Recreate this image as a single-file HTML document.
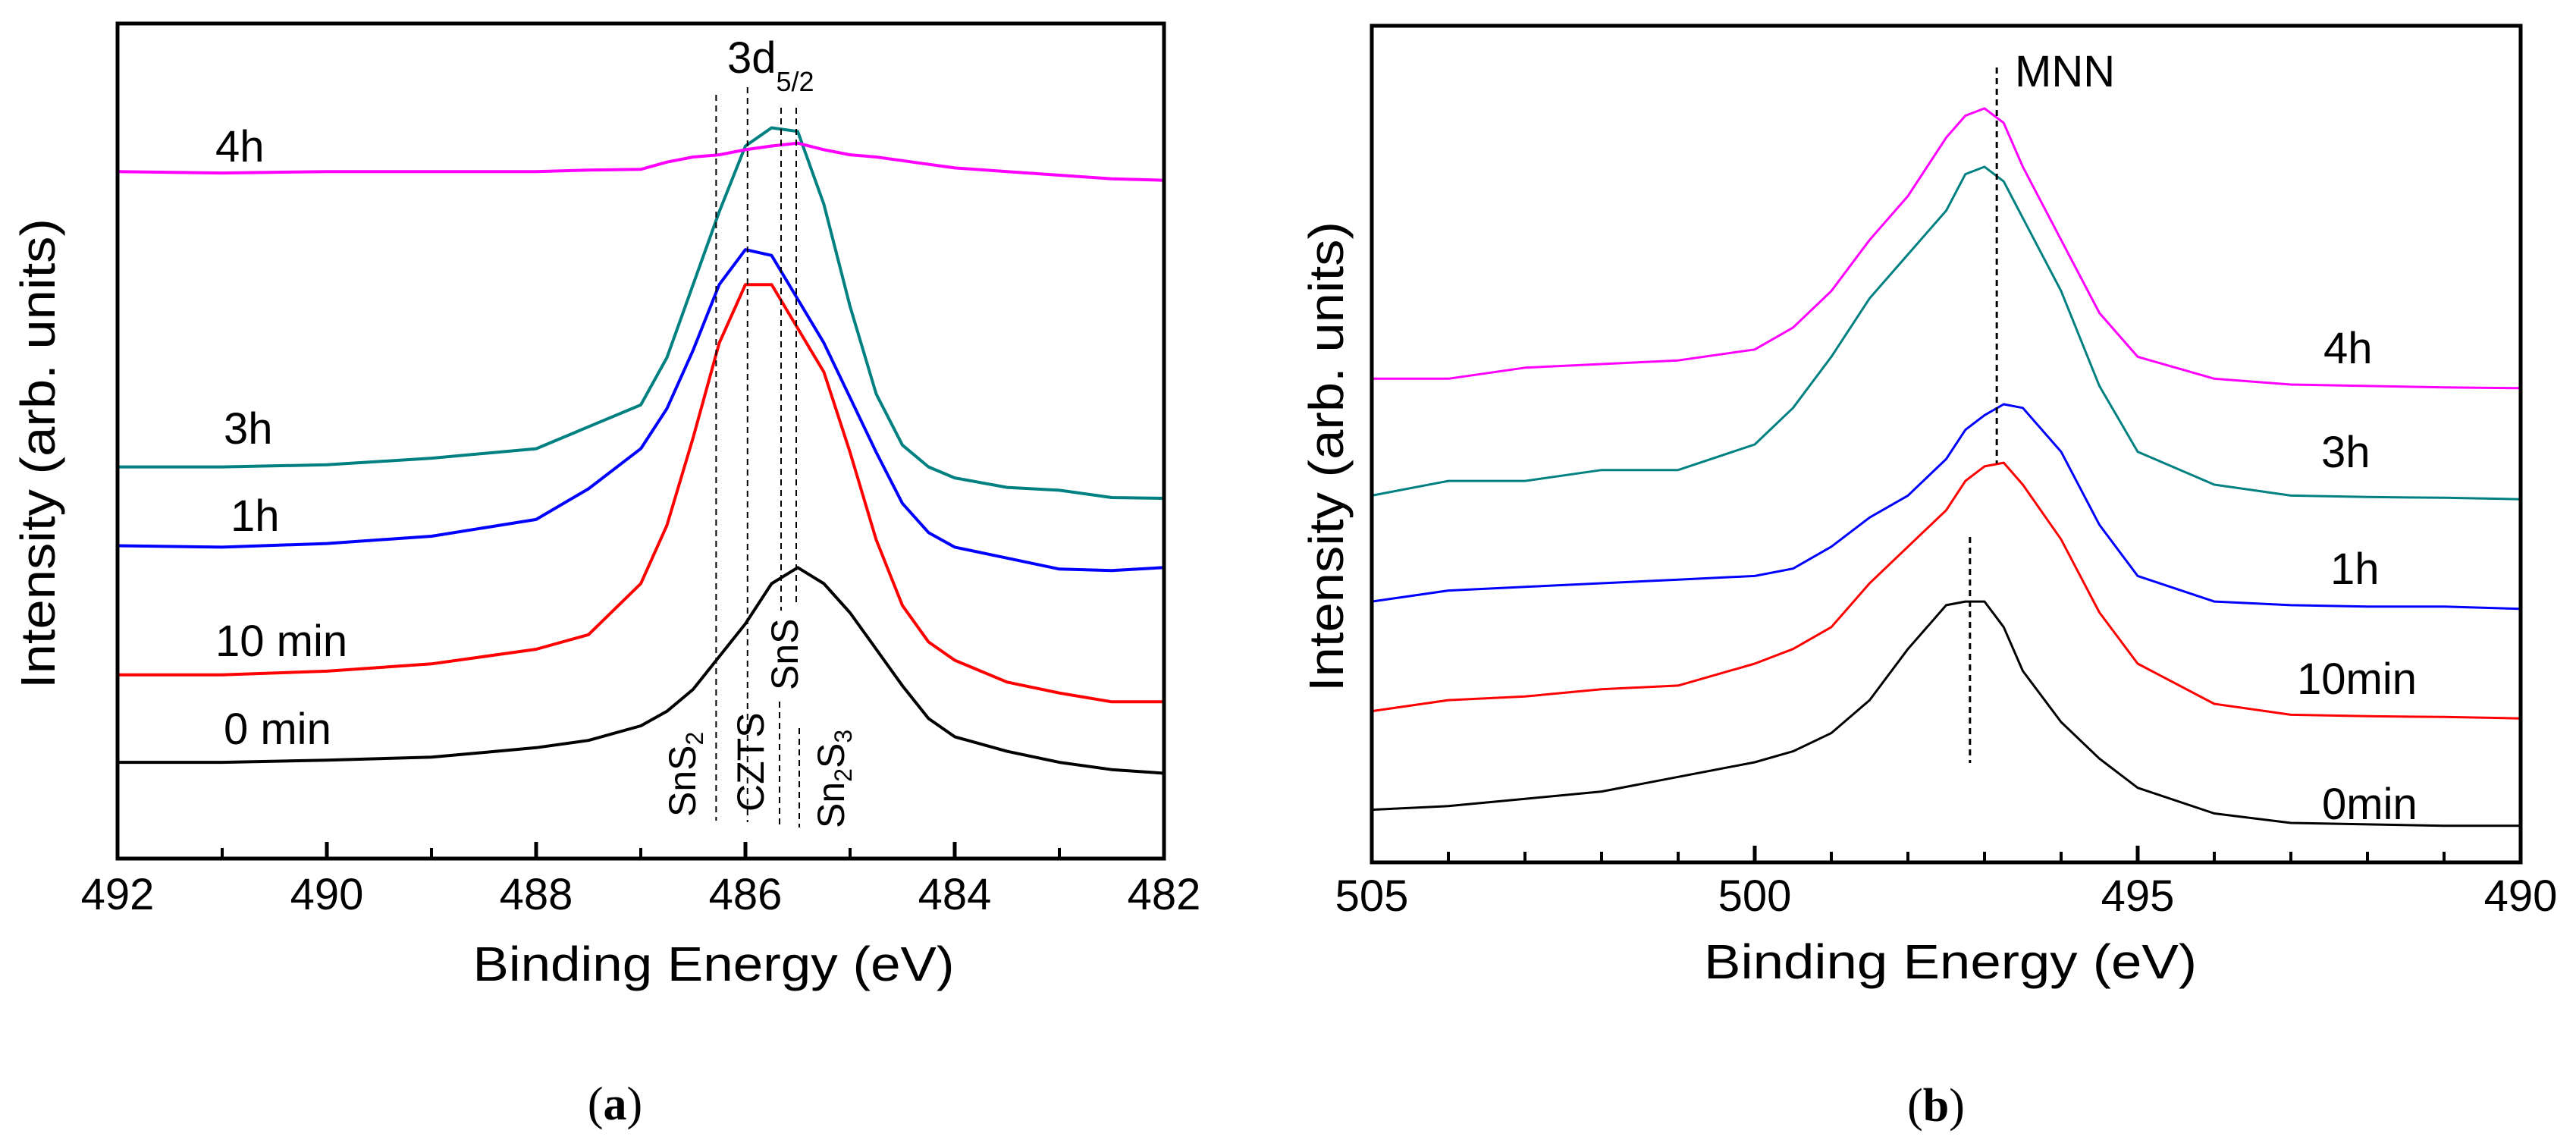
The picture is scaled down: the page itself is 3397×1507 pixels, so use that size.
<!DOCTYPE html>
<html><head><meta charset="utf-8"><style>
html,body{margin:0;padding:0;background:#fff;}
svg{display:block;font-family:"Liberation Sans",Arial,sans-serif;}
</style></head><body>
<svg id="fig" width="3397" height="1507" viewBox="0 0 3397 1507" xmlns="http://www.w3.org/2000/svg">
<g id="pa"></g>
<g id="pb"></g>
</svg>
<script>
// ---------- Panel (a) data ----------
const energiesA = [492,491,490,489,488,487.5,487,486.75,486.5,486.25,486,485.75,485.5,485.25,485,484.75,484.5,484.25,484,483.5,483,482.5,482];
const seriesA_0min = [132,132,135,139,152,162,182,202,232,277,322,377,399,377,337,287,237,192,167,147,132,122,117];
const seriesA_10min = [252,252,257,267,287,307,377,457,577,707,787,787,727,667,557,437,347,297,272,242,227,215,215];
const seriesA_1h = [429,427,432,442,465,507,562,617,697,787,835,827,767,707,632,557,487,447,427,412,397,395,399];
const seriesA_3h = [537,537,540,549,562,592,622,687,787,887,977,1002,997,897,757,637,567,537,522,509,505,495,494];
const seriesA_4h = [942,940,942,942,942,944,945,955,962,965,972,977,981,972,965,962,957,952,947,942,937,932,930];
const ticksA = [492,490,488,486,484,482];
const minorTicksA = [491,489,487,485,483];
const refLinesA = [486.28,485.98];
// ---------- Panel (b) data ----------
const energiesB = [505,504,503,502,501,500,499.5,499,498.5,498,497.5,497.25,497,496.75,496.5,496,495.5,495,494,493,492,491,490];
const seriesB_0min = [72,77,87,97,117,137,152,177,222,292,352,357,357,322,262,192,142,102,67,54,52,50,50];
const seriesB_10min = [207,222,227,237,242,272,292,322,382,432,482,522,542,547,517,442,342,272,217,202,200,199,197];
const seriesB_1h = [357,372,377,382,387,392,402,432,472,502,552,592,612,627,622,562,462,392,357,352,350,350,347];
const seriesB_3h = [502,522,522,537,537,572,622,692,772,832,892,942,952,932,882,782,652,562,517,502,500,499,497];
const seriesB_4h = [662,662,677,682,687,702,732,782,852,912,992,1022,1032,1012,952,852,752,692,662,654,652,650,649];
const ticksB = [505,500,495,490];
const minorTicksB = [504,503,502,501,499,498,497,496,494,493,492,491];
const mnnLine = 496.84;
const zeroLine = 497.19;

const NS = "http://www.w3.org/2000/svg";
function mk(parent, tag, attrs){const e=document.createElementNS(NS,tag);for(const k in attrs)e.setAttribute(k,attrs[k]);parent.appendChild(e);return e;}

function axis(x0,x1,e0,e1){return e=>x0+(e0-e)/(e0-e1)*(x1-x0);}
function yaxis(y0,y1){return v=>y0-v/1145*(y0-y1);}

// ================= Panel A =================
const pa=document.getElementById('pa');
const xA=axis(155,1535,492,482), yA=yaxis(1132,31);
function drawSeries(g,energies,vals,xf,yf,color,w,name){
  const pts=energies.map((e,i)=>xf(e).toFixed(1)+","+yf(vals[i]).toFixed(1)).join(" ");
  const p=mk(g,'polyline',{points:pts,fill:'none',stroke:color,'stroke-width':w,'stroke-linejoin':'round'});
  
  
}
drawSeries(pa,energiesA,seriesA_0min,xA,yA,'#000',4,'series-0min');
drawSeries(pa,energiesA,seriesA_10min,xA,yA,'#ff0000',4,'series-10min');
drawSeries(pa,energiesA,seriesA_1h,xA,yA,'#0000ff',4,'series-1h');
drawSeries(pa,energiesA,seriesA_3h,xA,yA,'#008080',4,'series-3h');
drawSeries(pa,energiesA,seriesA_4h,xA,yA,'#ff00ff',4,'series-4h');

// frame
let f=mk(pa,'rect',{x:155,y:31,width:1380,height:1101,fill:'none',stroke:'#000','stroke-width':5});


ticksA.forEach(t=>{
  const l=mk(pa,'line',{x1:xA(t),x2:xA(t),y1:1132,y2:1110,stroke:'#000','stroke-width':5});
  
  
  const tx=mk(pa,'text',{x:xA(t),y:1199,'font-size':58,'text-anchor':'middle'});
  tx.textContent=t;
  
  
});
minorTicksA.forEach(t=>{
  const l=mk(pa,'line',{x1:xA(t),x2:xA(t),y1:1132,y2:1118,stroke:'#000','stroke-width':4});
  
  
});
// dashed reference lines
function dash(g,x,y1,y2,name,w){const l=mk(g,'line',{x1:x,x2:x,y1:y1,y2:y2,stroke:'#000','stroke-width':w||2,'stroke-dasharray':'8,6'});}
dash(pa,xA(refLinesA[0]),125,1082,'snS2-ref-line');
dash(pa,xA(refLinesA[1]),115,1084,'czts-ref-line');
dash(pa,1030,142,805,'sns-ref-line-top');
dash(pa,1028,925,1091,'sns-ref-line-bottom');
dash(pa,1050,142,800,'sn2s3-ref-line-top');
dash(pa,1054,960,1091,'sn2s3-ref-line-bottom');
</script>
<script>
// static labels panel a
(function(){
const pa=document.getElementById('pa');
const h=`
<text x="284" y="213" font-size="58">4h</text>
<text x="295" y="585" font-size="58">3h</text>
<text x="304" y="700" font-size="58">1h</text>
<text x="284" y="865" font-size="58">10 min</text>
<text x="295" y="981" font-size="58">0 min</text>
<text x="959" y="96" font-size="58">3d<tspan font-size="36" dy="24">5/2</tspan></text>
<text transform="translate(917,1077) rotate(-90)" font-size="50">SnS<tspan font-size="32" dy="10">2</tspan></text>
<text transform="translate(1007,1070) rotate(-90)" font-size="50">CZTS</text>
<text transform="translate(1052,910) rotate(-90)" font-size="50">SnS</text>
<text transform="translate(1113,1092) rotate(-90)" font-size="50">Sn<tspan font-size="32" dy="10">2</tspan><tspan dy="-10">S</tspan><tspan font-size="32" dy="10">3</tspan></text>
<text transform="translate(72,598) rotate(-90)" font-size="64" text-anchor="middle" textLength="620" lengthAdjust="spacingAndGlyphs">Intensity (arb. units)</text>
<text x="941" y="1293" font-size="64" text-anchor="middle" textLength="635" lengthAdjust="spacingAndGlyphs">Binding Energy (eV)</text>
<text x="811" y="1476" font-size="62" text-anchor="middle" font-family="Liberation Serif, serif">(<tspan font-weight="bold">a</tspan>)</text>`;
pa.insertAdjacentHTML('beforeend',h);
})();
</script>
<script>
// ================= Panel B =================
(function(){
const pb=document.getElementById('pb');
const xB=axis(1809,3324,505,490), yB=yaxis(1137,34);
function s(vals,color,name){
  const pts=energiesB.map((e,i)=>xB(e).toFixed(1)+","+yB(vals[i]).toFixed(1)).join(" ");
  const p=mk(pb,'polyline',{points:pts,fill:'none',stroke:color,'stroke-width':3,'stroke-linejoin':'round'});
  
  
}
s(seriesB_0min,'#000','series-b-0min');
s(seriesB_10min,'#ff0000','series-b-10min');
s(seriesB_1h,'#0000ff','series-b-1h');
s(seriesB_3h,'#008080','series-b-3h');
s(seriesB_4h,'#ff00ff','series-b-4h');
const f=mk(pb,'rect',{x:1809,y:34,width:1515,height:1103,fill:'none',stroke:'#000','stroke-width':5});


ticksB.forEach(t=>{
  const l=mk(pb,'line',{x1:xB(t),x2:xB(t),y1:1137,y2:1115,stroke:'#000','stroke-width':5});
  
  
  const tx=mk(pb,'text',{x:xB(t),y:1201,'font-size':58,'text-anchor':'middle'});
  tx.textContent=t;
  
  
});
minorTicksB.forEach(t=>{
  const l=mk(pb,'line',{x1:xB(t),x2:xB(t),y1:1137,y2:1123,stroke:'#000','stroke-width':4});
  
  
});
dash(pb,xB(mnnLine),89,611,'mnn-ref-line',3);
dash(pb,xB(zeroLine),708,1006,'0min-peak-ref-line',3);
pb.insertAdjacentHTML('beforeend',`
<text x="2657" y="114" font-size="58">MNN</text>
<text x="3064" y="479" font-size="58">4h</text>
<text x="3061" y="616" font-size="58">3h</text>
<text x="3073" y="770" font-size="58">1h</text>
<text x="3029" y="915" font-size="58">10min</text>
<text x="3062" y="1080" font-size="58">0min</text>
<text transform="translate(1771,602) rotate(-90)" font-size="64" text-anchor="middle" textLength="620" lengthAdjust="spacingAndGlyphs">Intensity (arb. units)</text>
<text x="2572" y="1290" font-size="64" text-anchor="middle" textLength="650" lengthAdjust="spacingAndGlyphs">Binding Energy (eV)</text>
<text x="2553" y="1478" font-size="62" text-anchor="middle" font-family="Liberation Serif, serif">(<tspan font-weight="bold">b</tspan>)</text>`);
})();
</script>
</body></html>
